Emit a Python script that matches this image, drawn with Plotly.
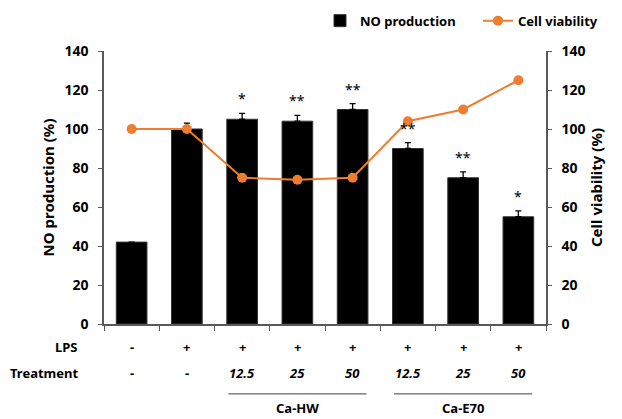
import plotly.graph_objects as go

groups = ["Control", "LPS", "HW 12.5", "HW 25", "HW 50", "E70 12.5", "E70 25", "E70 50"]
no_production = [42, 100, 105, 104, 110, 90, 75, 55]
no_error = [0, 3, 3, 3, 3, 3, 3, 3]
cell_viability = [100, 100, 75, 74, 75, 104, 110, 125]
significance = ["", "", "*", "**", "**", "**", "**", "*"]
lps_labels = ["-", "+", "+", "+", "+", "+", "+", "+"]
treatment_labels = ["-", "-", "12.5", "25", "50", "12.5", "25", "50"]
extract_groups = [("Ca-HW", [2, 3, 4]), ("Ca-E70", [5, 6, 7])]
y_ticks = [0, 20, 40, 60, 80, 100, 120, 140]

FONT = "Noto Sans"
ORANGE = "#ED7D31"
AXIS = "#595959"
x = list(range(len(groups)))

def f(size, bold=True):
    return dict(family=FONT, size=size, color="black", weight="bold" if bold else "normal")

fig = go.Figure()
fig.add_trace(go.Bar(
    x=x, y=no_production, name="NO production", legend="legend",
    marker=dict(color="black", line=dict(color="#333333", width=1)),
    error_y=dict(type="data", array=no_error, arrayminus=[0]*len(x), symmetric=False,
                 color="black", thickness=1.3, width=3),
))
fig.add_trace(go.Scatter(
    x=x, y=cell_viability, name="Cell viability", yaxis="y2", legend="legend2",
    mode="lines+markers", line=dict(color=ORANGE, width=2),
    marker=dict(color=ORANGE, size=10),
))

label_x = (80 - 104) / 442
ann = []
for i in x:
    if significance[i]:
        ann.append(dict(x=i, y=no_production[i] + no_error[i] + 1.5, xref="x", yref="y",
                        text=significance[i], showarrow=False, yanchor="bottom",
                        font=f(14, False)))
    ann.append(dict(x=i, y=-0.084, xref="x", yref="paper", text=lps_labels[i],
                    showarrow=False, yanchor="middle", font=f(13)))
    t = treatment_labels[i]
    txt = t if t == "-" else "<i>%s</i>" % t
    ann.append(dict(x=i, y=-0.18, xref="x", yref="paper", text=txt,
                    showarrow=False, yanchor="middle", font=f(13)))
ann.append(dict(x=label_x, y=-0.084, xref="paper", yref="paper", text="LPS", showarrow=False,
                xanchor="right", yanchor="middle", font=f(13)))
ann.append(dict(x=label_x, y=-0.18, xref="paper", yref="paper", text="Treatment",
                showarrow=False, xanchor="right", yanchor="middle", font=f(13)))

shapes = []
for name, idx in extract_groups:
    x0, x1 = idx[0] - 0.25, idx[-1] + 0.25
    shapes.append(dict(type="line", xref="x", yref="paper", x0=x0, x1=x1, y0=-0.256, y1=-0.256,
                       line=dict(color="#404040", width=1)))
    ann.append(dict(x=sum(idx) / len(idx), y=-0.308, xref="x", yref="paper", text=name,
                    showarrow=False, yanchor="middle", font=f(13)))

axis_common = dict(range=[0, 140], tickvals=y_ticks, ticks="outside", ticklen=4, tickcolor=AXIS,
                   showline=True, linecolor=AXIS, linewidth=1.5, showgrid=False, zeroline=False,
                   tickfont=f(14), ticklabelstandoff=7)

fig.update_layout(
    width=622, height=419,
    margin=dict(l=96, r=84, t=43, b=103, autoexpand=False),
    plot_bgcolor="white", paper_bgcolor="white",
    bargap=0.445,
    showlegend=True,
    legend=dict(orientation="h", x=(320 - 104) / 442, y=1.111, xanchor="left", yanchor="middle",
                font=f(13), bgcolor="rgba(0,0,0,0)", itemwidth=30),
    legend2=dict(orientation="h", x=(478 - 104) / 442, y=1.111, xanchor="left", yanchor="middle",
                 font=f(13), bgcolor="rgba(0,0,0,0)", itemwidth=30),
    xaxis=dict(range=[-0.5, 7.5], tickvals=[v - 0.5 for v in x] + [7.5], showticklabels=False,
               ticks="outside", ticklen=5, tickcolor=AXIS, showline=True, linecolor=AXIS,
               linewidth=1.5, showgrid=False, zeroline=False),
    yaxis=dict(**axis_common, title=dict(text="NO production (%)", standoff=6, font=f(15))),
    yaxis2=dict(**axis_common, overlaying="y", side="right",
                title=dict(text="Cell viability (%)", standoff=6, font=f(15))),
    annotations=ann, shapes=shapes,
)
fig.write_html("out.html")
